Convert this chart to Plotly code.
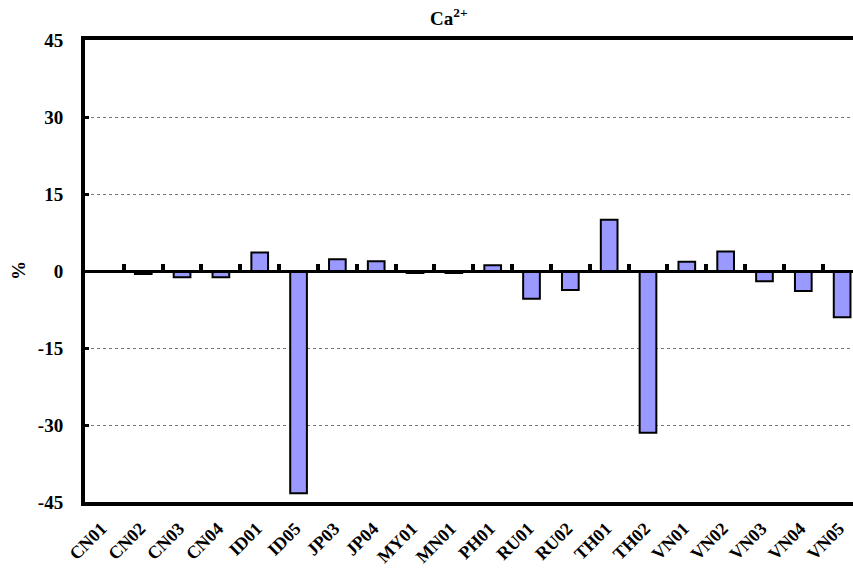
import plotly.graph_objects as go

categories = ["CN01", "CN02", "CN03", "CN04", "ID01", "ID05", "JP03", "JP04", "MY01", "MN01",
              "PH01", "RU01", "RU02", "TH01", "TH02", "VN01", "VN02", "VN03", "VN04", "VN05"]
values = [-0.1, -0.6, -1.2, -1.2, 3.6, -43.3, 2.3, 1.9, -0.4, -0.4,
          1.1, -5.4, -3.7, 10.0, -31.5, 1.8, 3.8, -2.0, -3.9, -9.0]
y_ticks = [-45, -30, -15, 0, 15, 30, 45]
y_tick_labels = ["-45", "-30", "-15", "0", "15", "30", "45"]
title_text = "Ca<sup>2+</sup>"
y_label = "%"

FONT = "Liberation Serif"
W, H = 853, 569
ML, MR, MT, MB = 85, 0, 40, 67

fig = go.Figure()
fig.add_trace(go.Bar(
    x=categories, y=values, width=0.43,
    marker=dict(color="#9999FF", line=dict(color="black", width=2)),
    showlegend=False, hoverinfo="x+y",
))
# invisible trace so the zero-line axis is rendered
fig.add_trace(go.Scatter(x=[0], y=[0], xaxis="x2", yaxis="y", mode="markers",
                         marker=dict(opacity=0), showlegend=False, hoverinfo="skip"))

xr = [-0.5, 19.28]
fig.update_layout(
    width=W, height=H,
    margin=dict(l=ML, r=MR, t=MT, b=MB, autoexpand=False),
    plot_bgcolor="white", paper_bgcolor="white",
    xaxis=dict(
        type="category", range=xr, showline=True, linecolor="black", linewidth=4,
        mirror=True, ticks="", showgrid=False, tickangle=-45, automargin=False,
        ticklabelstandoff=5, ticklabelshift=-3,
        tickfont=dict(family=FONT, size=18, color="black", weight="bold"),
    ),
    xaxis2=dict(
        overlaying="x", anchor="free", position=0.5, side="top", range=xr,
        showline=True, linecolor="black", linewidth=3, automargin=False,
        ticks="outside", ticklen=6, tickwidth=4, tickcolor="black",
        tickvals=[i + 0.5 for i in range(len(categories) - 1)],
        showticklabels=False, showgrid=False, zeroline=False,
    ),
    yaxis=dict(
        range=[-45, 45], tickvals=y_ticks, ticktext=y_tick_labels,
        showline=True, linecolor="black", linewidth=4,
        ticks="inside", ticklen=4, tickwidth=3, tickcolor="black", automargin=False,
        showgrid=True, gridcolor="#777777", griddash="dot", gridwidth=1,
        zeroline=False, ticklabelstandoff=14,
        tickfont=dict(family=FONT, size=19, color="black", weight="bold"),
    ),
    annotations=[
        dict(text=title_text, xref="paper", yref="paper",
             x=(448 - ML) / (W - ML - MR), y=1 + 23 / (H - MT - MB),
             xanchor="center", yanchor="middle", showarrow=False,
             font=dict(family=FONT, size=19, color="black", weight="bold")),
        dict(text=y_label, xref="paper", yref="paper",
             x=(18 - ML) / (W - ML - MR), y=0.5, textangle=-90,
             xanchor="center", yanchor="middle", showarrow=False,
             font=dict(family=FONT, size=19, color="black", weight="bold")),
    ],
)

fig.write_html(
    "out.html",
    config={"displayModeBar": False},
    post_script="document.body.style.margin='0';document.body.style.overflow='hidden';",
)
